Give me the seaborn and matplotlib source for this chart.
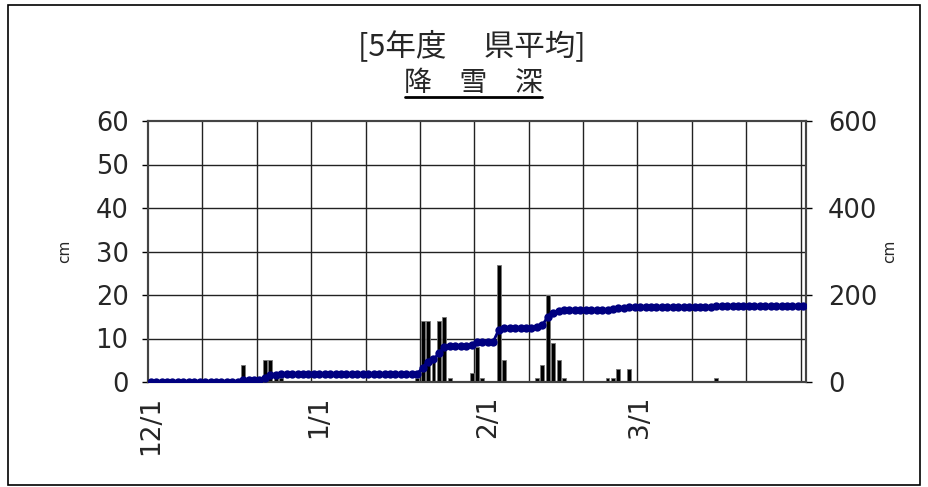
import numpy as np
import pandas as pd
import matplotlib
matplotlib.use("Agg")
import matplotlib.pyplot as plt
import seaborn as sns
from matplotlib.lines import Line2D
from matplotlib.patches import Rectangle

# ---- data (daily new snowfall, cm) ----
dec = [0,0,0,0,0,0,0,0,0,0, 0,0,0,0,0,0,0,4,0,0, 1,5,5,2,1,0,0,0,0,0, 0]
jan = [0,0,0,0,0,0,0,0,0,0, 0,0,0,0,0,0,0,0,1,14, 14,5,14,15,1,0,0,0,2,8, 1]
feb = [0,0,27,5,0,0,0,0,0,1, 4,20,9,5,1,0,0,0,0,0, 0,0,1,1,3,0,3,0]
mar = [0,0,0,0,0,0,0,0,0,0, 0,0,0,0,1,0,0,0,0,0, 0,0,0,0,0,0,0,0,0,0, 0]
month_labels = ["12/1", "1/1", "2/1", "3/1"]
title1 = "[5年度　 県平均]"
title2 = "降　雪　深"

daily = dec + jan + feb + mar
n = len(daily)
df = pd.DataFrame({"day": np.arange(n), "snow": daily})
df["cum"] = df["snow"].cumsum()
month_starts = np.cumsum([0, len(dec), len(jan), len(feb)])

sns.set_theme(style="white")
plt.rcParams["font.family"] = ["DejaVu Sans", "Noto Sans CJK JP"]
CJK = ["Noto Sans CJK JP", "DejaVu Sans"]

W, H = 929, 487
fig = plt.figure(figsize=(W / 100, H / 100), dpi=100)
ax = fig.add_axes([148 / W, 1 - 382 / H, (806 - 148) / W, (382 - 121) / H])

sns.barplot(data=df, x="day", y="snow", color="black", width=0.72,
            saturation=1, native_scale=True, ax=ax, edgecolor="#777777", linewidth=0.6)
ax.set_xlim(-0.5, n - 0.5)
ax.set_ylim(0, 60)
ax.set_yticks(range(0, 61, 10))
ax.set_yticklabels([str(v) for v in range(0, 61, 10)], fontsize=18.5)
ax.set_xticks(month_starts)
ax.set_xticklabels(month_labels, rotation=90, fontsize=19)
ax.tick_params(axis="x", length=0, pad=10)
ax.tick_params(axis="y", length=4, width=1, direction="out", color="black", pad=10)
for xv in np.arange(10, n + 1, 10) - 0.5:
    ax.axvline(xv, color="#222222", lw=1.0, zorder=0.5)
for yv in range(10, 60, 10):
    ax.axhline(yv, color="#222222", lw=1.0, zorder=0.5)
ax.set_xlabel("")
ax.set_ylabel("cm", fontsize=11, labelpad=17)
for s in ax.spines.values():
    s.set_color("#444444")
    s.set_linewidth(1.5)

ax2 = ax.twinx()
sns.lineplot(data=df, x="day", y="cum", color="#000080", marker="o",
             markersize=6, markeredgewidth=0, linewidth=2, ax=ax2, zorder=5)
ax2.set_ylim(0, 600)
ax2.set_xlim(-0.5, n - 0.5)
ax2.set_yticks(range(0, 601, 200))
ax2.set_yticklabels([str(v) for v in range(0, 601, 200)], fontsize=18.5)
ax2.tick_params(axis="y", length=4, width=1, direction="out", color="black", pad=12)
ax2.set_ylabel("cm", fontsize=11, labelpad=3)
ax2.set_xlabel("")
for s in ax2.spines.values():
    s.set_color("#444444")
    s.set_linewidth(1.5)

fig.text(472 / W, 1 - 46 / H, title1, ha="center", va="center", fontsize=22, family=CJK)
fig.text(473 / W, 1 - 83 / H, title2, ha="center", va="center", fontsize=20, family=CJK)
fig.add_artist(Line2D([405 / W, 542 / W], [1 - 97 / H, 1 - 97 / H], color="black", lw=2))
fig.add_artist(Rectangle((8 / W, 1 - 485 / H), (920 - 8) / W, (485 - 5) / H,
                         fill=False, edgecolor="black", lw=1.2))

fig.savefig("out.png", dpi=100, facecolor="white")
